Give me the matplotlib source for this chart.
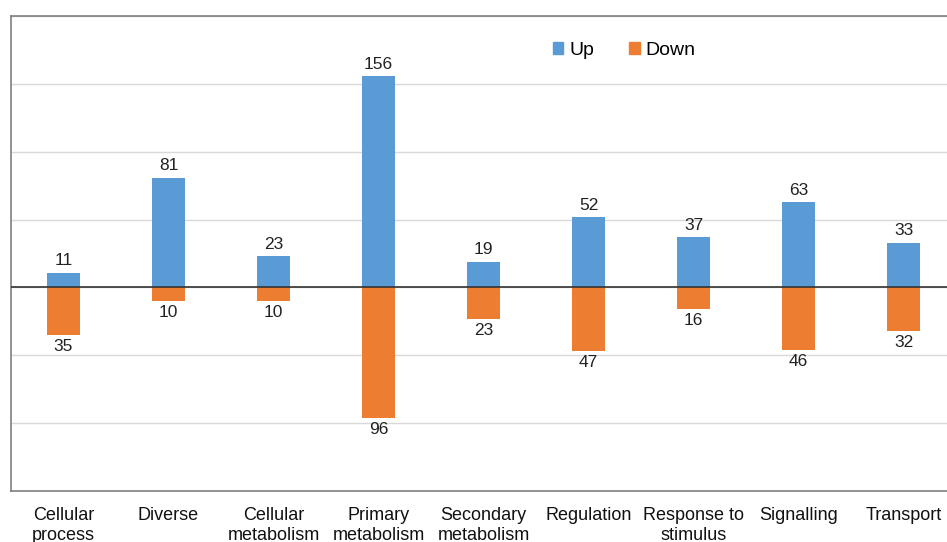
import matplotlib.pyplot as plt
from matplotlib.patches import Patch

categories = ["Cellular\nprocess", "Diverse", "Cellular\nmetabolism", "Primary\nmetabolism",
              "Secondary\nmetabolism", "Regulation", "Response to\nstimulus", "Signalling", "Transport"]
up = [11, 81, 23, 156, 19, 52, 37, 63, 33]
down = [35, 10, 10, 96, 23, 47, 16, 46, 32]

blue = "#5b9bd5"
orange = "#ed7d31"

plt.rcParams['font.family'] = ['Liberation Sans', 'DejaVu Sans']

fig = plt.figure(figsize=(9.47, 5.42), dpi=100)
# plot area runs a little past the right edge, like the cropped original
ax = fig.add_axes([11 / 947, 51 / 542, 945 / 947, 475 / 542])

x = list(range(len(categories)))
ax.bar(x, up, width=0.31, color=blue, zorder=3)
ax.bar(x, [-d for d in down], width=0.31, color=orange, zorder=3)

for i in x:
    ax.annotate(str(up[i]), (i, up[i]), xytext=(0, 3), textcoords="offset points",
                ha="center", va="bottom", fontsize=12.5, color="#222222")
    ax.annotate(str(down[i]), (i, -down[i]), xytext=(0, -3), textcoords="offset points",
                ha="center", va="top", fontsize=12.5, color="#222222")

ax.set_xlim(-0.5, 8.5)
ax.set_ylim(-150, 200)
ax.set_yticks([-150, -100, -50, 0, 50, 100, 150, 200])
ax.yaxis.grid(True, color="#d9d9d9", linewidth=1, zorder=0)
ax.tick_params(axis="y", left=False, labelleft=False)
ax.tick_params(axis="x", bottom=False, pad=8, labelsize=13)
ax.set_xticks(x)
ax.set_xticklabels(categories, linespacing=1.2, color="#111111")
ax.axhline(0, color="#333333", linewidth=1.2, zorder=4)

for s in ax.spines.values():
    s.set_color("#808080")
    s.set_linewidth(1.2)

handles = [Patch(color=blue), Patch(color=orange)]
fig.legend(handles, ["Up", "Down"], loc="center", bbox_to_anchor=(0.659, 0.907), ncol=2,
           frameon=False, fontsize=14, handlelength=0.55, handleheight=0.55,
           handletextpad=0.3, columnspacing=1.8)

fig.savefig("out.png", dpi=100)
